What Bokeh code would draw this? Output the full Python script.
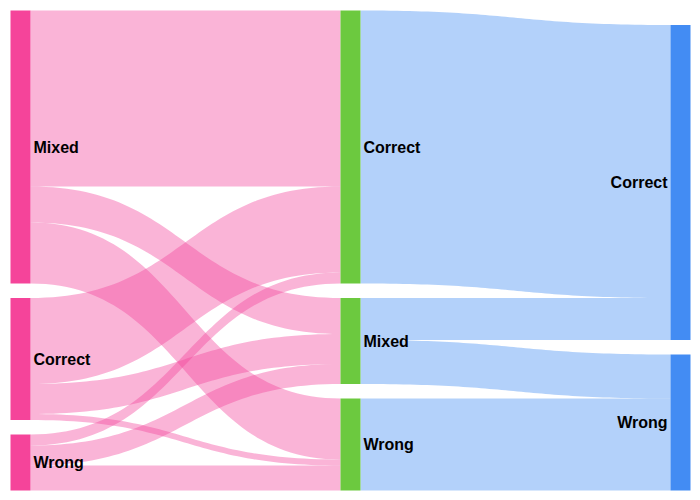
import numpy as np
from bokeh.plotting import figure
from bokeh.models import Range1d, ColumnDataSource
from bokeh.core.properties import value
from bokeh.embed import file_html
from bokeh.resources import INLINE

# ---- data ----
col_left = ["Mixed", "Correct", "Wrong"]
col_mid = ["Correct", "Mixed", "Wrong"]
col_right = ["Correct", "Wrong"]

stage1_src = ["Mixed", "Mixed", "Mixed", "Correct", "Correct", "Correct", "Wrong", "Wrong", "Wrong"]
stage1_tgt = ["Correct", "Mixed", "Wrong", "Correct", "Mixed", "Wrong", "Correct", "Mixed", "Wrong"]
stage1_val = [176, 36, 61, 86, 30, 6, 11, 20, 25]

stage2_src = ["Correct", "Mixed", "Mixed", "Wrong"]
stage2_tgt = ["Correct", "Correct", "Wrong", "Wrong"]
stage2_val = [273, 42, 44, 92]

node_colors = ["#F5449A", "#6CC93F", "#438CF3"]
link_colors = ["rgba(242,67,154,0.4)", "rgba(66,139,242,0.4)"]

# ---- layout ----
W, H = 700, 500
pad = 10
node_w = 20
gap = 14.5
columns = [col_left, col_mid, col_right]
stages = [(stage1_src, stage1_tgt, stage1_val), (stage2_src, stage2_tgt, stage2_val)]

node_val = [dict.fromkeys(c, 0.0) for c in columns]
out_val = [dict.fromkeys(c, 0.0) for c in columns]
in_val = [dict.fromkeys(c, 0.0) for c in columns]
for s, (src, tgt, val) in enumerate(stages):
    for a, b, v in zip(src, tgt, val):
        out_val[s][a] += v
        in_val[s + 1][b] += v
for c in range(len(columns)):
    for n in columns[c]:
        node_val[c][n] = max(out_val[c][n], in_val[c][n])

avail = H - 2 * pad
k = min((avail - (len(c) - 1) * gap) / sum(node_val[i].values()) for i, c in enumerate(columns))

node_pos = []
for c, names in enumerate(columns):
    x0 = pad + c * (W - 2 * pad - node_w) / (len(columns) - 1)
    used = sum(node_val[c].values()) * k + (len(names) - 1) * gap
    y = pad + (avail - used)
    pos = {}
    for n in names:
        h = node_val[c][n] * k
        pos[n] = (x0, y, h)
        y += h + gap
    node_pos.append(pos)

p = figure(width=W, height=H, output_backend="svg", toolbar_location=None,
           x_range=Range1d(0, W), y_range=Range1d(H, 0), min_border=0)
p.axis.visible = False
p.grid.visible = False
p.outline_line_color = None
p.background_fill_color = "white"
p.border_fill_color = "white"

t = np.linspace(0, 1, 60)


def bez(a, b, c, d):
    return (1 - t) ** 3 * a + 3 * (1 - t) ** 2 * t * b + 3 * (1 - t) * t ** 2 * c + t ** 3 * d


for s, (src, tgt, val) in enumerate(stages):
    sc, tc = node_pos[s], node_pos[s + 1]
    src_off = {n: 0.0 for n in columns[s]}
    tgt_off = {n: 0.0 for n in columns[s + 1]}
    idx = list(range(len(val)))
    src_order = sorted(idx, key=lambda i: (columns[s].index(src[i]), columns[s + 1].index(tgt[i])))
    ys = {}
    for i in src_order:
        ys[i] = sc[src[i]][1] + src_off[src[i]]
        src_off[src[i]] += val[i] * k
    tgt_order = sorted(idx, key=lambda i: (columns[s + 1].index(tgt[i]), columns[s].index(src[i])))
    yt = {}
    for i in tgt_order:
        yt[i] = tc[tgt[i]][1] + tgt_off[tgt[i]]
        tgt_off[tgt[i]] += val[i] * k
    xs_list, ys_list = [], []
    for i in idx:
        x0 = sc[src[i]][0] + node_w
        x1 = tc[tgt[i]][0]
        xm = (x0 + x1) / 2
        h = val[i] * k
        a0, b0 = ys[i], yt[i]
        top_x = bez(x0, xm, xm, x1)
        top_y = bez(a0, a0, b0, b0)
        bot_x = top_x[::-1]
        bot_y = bez(a0 + h, a0 + h, b0 + h, b0 + h)[::-1]
        xs_list.append(list(np.concatenate([top_x, bot_x])))
        ys_list.append(list(np.concatenate([top_y, bot_y])))
    p.patches(xs_list, ys_list, fill_color=link_colors[s], line_color=None)

for c, names in enumerate(columns):
    lefts, rights, tops, bottoms = [], [], [], []
    for n in names:
        x0, y0, h = node_pos[c][n]
        lefts.append(x0); rights.append(x0 + node_w); tops.append(y0); bottoms.append(y0 + h)
    p.quad(left=lefts, right=rights, top=tops, bottom=bottoms,
           fill_color=node_colors[c], line_color=None)
    last = c == len(columns) - 1
    tx = [(l - 3) if last else (r + 3) for l, r in zip(lefts, rights)]
    ty = [(a + b) / 2 for a, b in zip(tops, bottoms)]
    src = ColumnDataSource(dict(x=tx, y=ty, text=names))
    p.text(x="x", y="y", text="text", source=src,
           text_font=value("Liberation Sans"), text_font_style="bold",
           text_font_size="16px", text_color="black",
           text_align="right" if last else "left", text_baseline="middle")

open("out.html", "w").write(file_html(p, INLINE))
